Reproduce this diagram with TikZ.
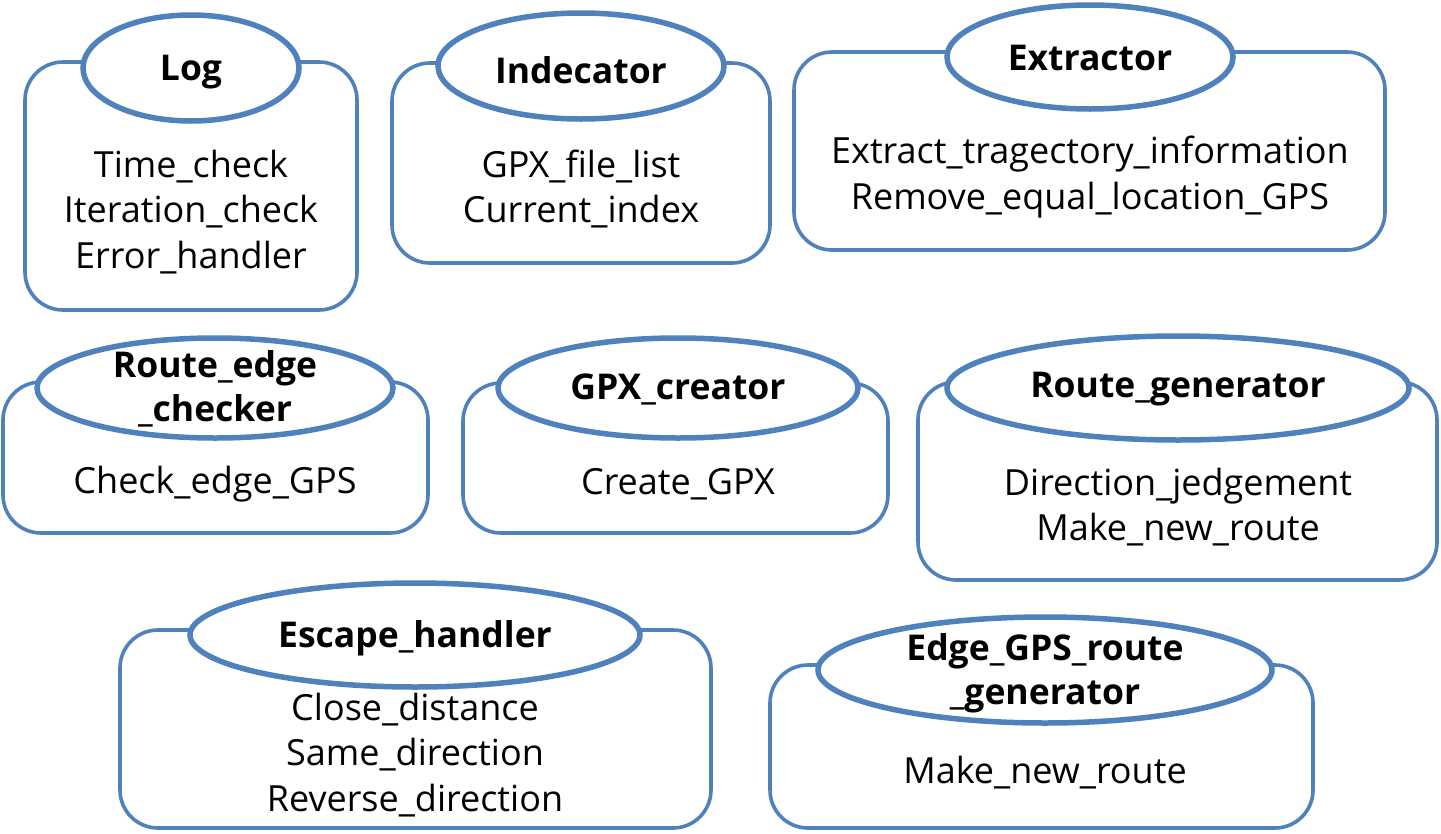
\documentclass[tikz,border=0pt]{standalone}
\usepackage{fontspec}
\setmainfont{Open Sans}
\usetikzlibrary{shapes.geometric}
\definecolor{myblue}{HTML}{4F81BD}
\newcommand{\bodyfont}{\fontsize{36}{45.5}\selectfont}
\newcommand{\titlefont}{\fontsize{35.5}{44}\selectfont\bfseries}
\tikzset{
  boxshape/.style={draw=myblue, line width=3.6pt, rounded corners=38pt, fill=white, inner sep=0pt},
  capell/.style={ellipse, draw=myblue, line width=5.5pt, fill=white, inner sep=0pt},
  ttl/.style={font=\titlefont, align=center, inner sep=0pt},
  bdy/.style={font=\bodyfont, align=center, inner sep=0pt},
}
% \mkbox{name}{left}{top}{right}{bottom}
\newcommand{\mkbox}[5]{%
  \node[boxshape, minimum width={(#4-#2)*1pt}, minimum height={(#5-#3)*1pt}] (#1) at ({(#2+#4)/2},{(#3+#5)/2}) {};}
% \mkcap{name}{cx}{cy}{rx}{ry}
\newcommand{\mkcap}[5]{%
  \node[capell, minimum width={2*#4*1pt}, minimum height={2*#5*1pt}] (#1) at (#2,#3) {};}
\begin{document}
\begin{tikzpicture}[x=1pt,y=-1pt]
\useasboundingbox (0,0) rectangle (1441,833);
\fill[white] (0,0) rectangle (1441,833);
% Row 1
\mkbox{logb}{25}{62}{357}{310}
\mkcap{loge}{191}{68}{108}{53}
\node[ttl] (logt) at (191,72) {Log};
\node[bdy] (logx) at (191,212) {Time\_check\\Iteration\_check\\Error\_handler};

\mkbox{indb}{392}{63}{770}{263}
\mkcap{inde}{581}{66}{143}{53}
\node[ttl] (indt) at (581,70) {Indecator};
\node[bdy] (indx) at (581,189) {GPX\_file\_list\\Current\_index};

\mkbox{extb}{794}{52}{1385}{250}
\mkcap{exte}{1090}{57}{143}{52}
\node[ttl] (extt) at (1090,58) {Extractor};
\node[bdy] (extx) at (1090,177) {Extract\_tragectory\_information\\Remove\_equal\_location\_GPS};
% Row 2
\mkbox{reb}{3}{382}{428}{533}
\mkcap{ree}{215}{388}{178}{50}
\node[ttl] (ret) at (215,389) {Route\_edge\\\_checker};
\node[bdy] (rex) at (215,484) {Check\_edge\_GPS};

\mkbox{gpxb}{463}{383}{888}{533}
\mkcap{gpxe}{678}{388}{180}{50}
\node[ttl] (gpxt) at (678,389) {GPX\_creator};
\node[bdy] (gpxx) at (678,484) {Create\_GPX};

\mkbox{rgb}{918}{382}{1437}{580}
\mkcap{rge}{1178}{388}{231}{52}
\node[ttl] (rgt) at (1178,389) {Route\_generator};
\node[bdy] (rgx) at (1178,507) {Direction\_jedgement\\Make\_new\_route};
% Row 3
\mkbox{escb}{120}{630}{711}{828}
\mkcap{esce}{415}{635}{225}{52}
\node[ttl] (esct) at (415,638) {Escape\_handler};
\node[bdy] (escx) at (415,755) {Close\_distance\\Same\_direction\\Reverse\_direction};

\mkbox{egb}{770}{665}{1313}{828}
\mkcap{ege}{1045}{670}{227}{53}
\node[ttl] (egt) at (1045,673) {Edge\_GPS\_route\\\_generator};
\node[bdy] (egx) at (1045,773) {Make\_new\_route};
\end{tikzpicture}
\end{document}
